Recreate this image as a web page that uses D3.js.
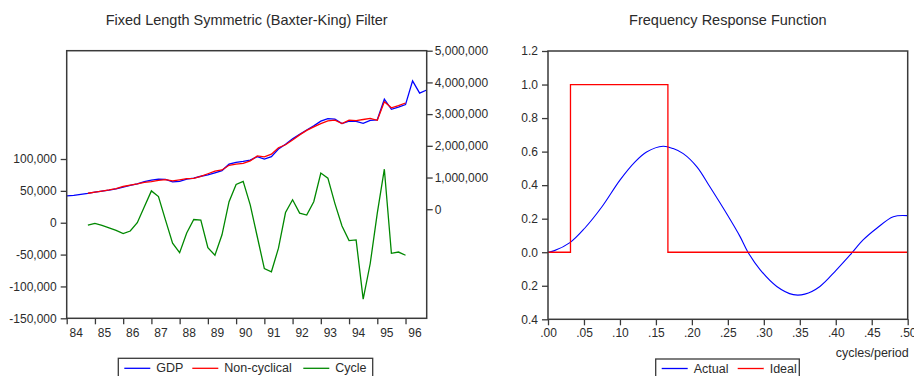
<!DOCTYPE html>
<html>
<head>
<meta charset="utf-8">
<script src="https://cdn.jsdelivr.net/npm/d3@7"></script>
<style>
  body { margin: 0; background: #fff; }
  text { font-family: Arial, "Liberation Sans", sans-serif; fill: #2b2b2b; }
</style>
</head>
<body>
<svg id="svg"></svg>
<script>
const width = 914;
const height = 376;

// quarters 1984Q1 .. 1996Q4 (index 0..51)
const yearLabels = ["84", "85", "86", "87", "88", "89", "90", "91", "92", "93", "94", "95", "96"];

// GDP, right axis
const gdp = [
    420000, 440000, 470000, 500000, 540000, 570000, 600000, 640000, 700000, 750000,
    800000, 870000, 920000, 950000, 940000, 860000, 880000, 950000, 980000, 1040000,
    1080000, 1150000, 1220000, 1420000, 1480000, 1510000, 1550000, 1660000, 1580000, 1660000,
    1900000, 2050000, 2220000, 2360000, 2500000, 2630000, 2780000, 2860000, 2840000, 2700000,
    2780000, 2770000, 2710000, 2800000, 2820000, 3470000, 3150000, 3220000, 3300000, 4050000,
    3660000, 3760000
];

// filtered series start at quarter 3 and stop at quarter 48
const filterStart = 3;

const nonCyclical = [
    504000, 541000, 574000, 608000, 652000, 717000, 763000, 800000, 845000, 870000,
    909000, 936000, 892000, 927000, 966000, 975000, 1036000, 1119000, 1201000, 1239000,
    1387000, 1420000, 1445000, 1522000, 1682000, 1652000, 1737000, 1940000, 2034000, 2184000,
    2345000, 2488000, 2597000, 2702000, 2790000, 2810000, 2705000, 2808000, 2797000, 2830000,
    2864000, 2805000, 3386000, 3198000, 3266000, 3351000
];

// Cycle, left axis
const cycle = [
    -3600, -1000, -4000, -8000, -12000, -17000, -13000, 0, 25000, 50000,
    41000, 4000, -32000, -47000, -16000, 5000, 4000, -39000, -51000, -19000,
    33000, 60000, 65000, 28000, -22000, -72000, -77000, -40000, 16000, 36000,
    15000, 12000, 33000, 78000, 70000, 30000, -5000, -28000, -27000, -120000,
    -64000, 15000, 84000, -48000, -46000, -51000
];

const leftTicks = [-150000, -100000, -50000, 0, 50000, 100000];
const rightTicks = [0, 1000000, 2000000, 3000000, 4000000, 5000000];

// frequency response
const freq = [
    0, 0.008, 0.031, 0.051, 0.075, 0.100, 0.121, 0.137, 0.160, 0.174,
    0.188, 0.207, 0.225, 0.248, 0.267, 0.278, 0.295, 0.318, 0.341, 0.357,
    0.378, 0.401, 0.422, 0.438, 0.457, 0.480, 0.500
];
const actualResp = [
    0, 0.008, 0.059, 0.143, 0.271, 0.430, 0.539, 0.598, 0.632, 0.618,
    0.588, 0.509, 0.390, 0.232, 0.093, 0.000, -0.105, -0.204, -0.253, -0.250,
    -0.204, -0.105, -0.006, 0.073, 0.143, 0.212, 0.218
];
const idealFreq = [0, 0.03125, 0.03125, 0.16667, 0.16667, 0.5];
const idealResp = [0, 0, 1, 1, 0, 0];

const freqTicks = [0, 0.05, 0.1, 0.15, 0.2, 0.25, 0.3, 0.35, 0.4, 0.45, 0.5];
const freqTickLabels = [".00", ".05", ".10", ".15", ".20", ".25", ".30", ".35", ".40", ".45", ".50"];
const respTicks = [-0.4, -0.2, 0, 0.2, 0.4, 0.6, 0.8, 1.0, 1.2];
const respTickLabels = ["0.4", "0.2", "0.0", "0.2", "0.4", "0.6", "0.8", "1.0", "1.2"];

const leftLegend = [
    { name: "GDP", color: "#0000ff" },
    { name: "Non-cyclical", color: "#ff0000" },
    { name: "Cycle", color: "#008800" }
];
const rightLegend = [
    { name: "Actual", color: "#0000ff" },
    { name: "Ideal", color: "#ff0000" }
];

const axisColor = "#3a3a3a";

let svg = d3.select("#svg");

function fmt(d) {
    // EViews style hyphen minus
    return d3.format(",")(d).replace("\u2212", "-");
}

function styleAxis(g) {
    g.select(".domain").remove();
    g.selectAll(".tick line").attr("stroke", axisColor).attr("stroke-width", 1.3);
    g.selectAll(".tick text").style("font-size", "12px").attr("fill", "#2b2b2b");
}

function drawFrame(x0, y0, x1, y1) {
    svg.append("rect")
        .attr("x", x0).attr("y", y0)
        .attr("width", x1 - x0).attr("height", y1 - y0)
        .attr("fill", "none")
        .attr("stroke", axisColor)
        .attr("stroke-width", 1.5);
}

function drawLegend(items, x0, y0, w, spacing, baseline) {
    let g = svg.append("g").attr("transform", `translate(${x0},${y0})`);
    g.append("rect")
        .attr("width", w).attr("height", 24)
        .attr("fill", "#fff")
        .attr("stroke", axisColor)
        .attr("stroke-width", 1.3);
    let x = 6;
    items.forEach((it, i) => {
        g.append("line")
            .attr("x1", x).attr("x2", x + 26)
            .attr("y1", baseline - 4).attr("y2", baseline - 4)
            .attr("stroke", it.color)
            .attr("stroke-width", 1.3);
        g.append("text")
            .attr("x", x + 32).attr("y", baseline)
            .style("font-size", "12.5px")
            .text(it.name);
        x += spacing[i];
    });
}

function drawLeftChart() {
    const L = 66.7, R = 426.7, T = 50.7, B = 318.3;

    let x = d3.scaleLinear().domain([0, 51]).range([L, R]);
    let yCycle = d3.scaleLinear().domain([-150000, 270000]).range([B, T]);
    let yGdp = d3.scaleLinear().domain([-3440000, 5000000]).range([B, T]);

    svg.append("text")
        .attr("x", (L + R) / 2).attr("y", 25)
        .attr("text-anchor", "middle")
        .style("font-size", "14.5px")
        .text("Fixed Length Symmetric (Baxter-King) Filter");

    let line = d3.line().x(d => x(d[0])).y(d => d[1]);

    svg.append("path")
        .datum(gdp.map((v, i) => [i, yGdp(v)]))
        .attr("d", line)
        .attr("fill", "none")
        .attr("stroke", "#0000ff")
        .attr("stroke-width", 1.3);

    svg.append("path")
        .datum(nonCyclical.map((v, i) => [i + filterStart, yGdp(v)]))
        .attr("d", line)
        .attr("fill", "none")
        .attr("stroke", "#ff0000")
        .attr("stroke-width", 1.3);

    svg.append("path")
        .datum(cycle.map((v, i) => [i + filterStart, yCycle(v)]))
        .attr("d", line)
        .attr("fill", "none")
        .attr("stroke", "#008800")
        .attr("stroke-width", 1.3);

    drawFrame(L, T, R, B);

    // left axis
    svg.append("g")
        .attr("transform", `translate(${L},0)`)
        .call(d3.axisLeft(yCycle).tickValues(leftTicks).tickFormat(fmt).tickSize(6).tickPadding(4))
        .call(styleAxis);

    // right axis
    svg.append("g")
        .attr("transform", `translate(${R},0)`)
        .call(d3.axisRight(yGdp).tickValues(rightTicks).tickFormat(fmt).tickSize(6).tickPadding(2))
        .call(styleAxis);

    // bottom axis, ticks at start of each year, labels shifted into the year
    svg.append("g")
        .attr("transform", `translate(0,${B})`)
        .call(d3.axisBottom(x).tickValues(yearLabels.map((d, i) => i * 4)).tickFormat("").tickSize(6))
        .call(styleAxis);

    svg.append("g").selectAll("text")
        .data(yearLabels)
        .join("text")
        .attr("x", (d, i) => x(i * 4 + 1.35))
        .attr("y", 337)
        .attr("text-anchor", "middle")
        .style("font-size", "12px")
        .text(d => d);

    drawLegend(leftLegend, 118.3, 358.3, 254.4, [68, 111, 0], 14);
}

function drawRightChart() {
    const L = 548, R = 907.7, T = 51, B = 319.3;

    let x = d3.scaleLinear().domain([0, 0.5]).range([L, R]);
    let y = d3.scaleLinear().domain([-0.4, 1.2]).range([B, T]);

    svg.append("text")
        .attr("x", (L + R) / 2).attr("y", 25)
        .attr("text-anchor", "middle")
        .style("font-size", "14.5px")
        .text("Frequency Response Function");

    svg.append("path")
        .datum(freq.map((f, i) => [f, actualResp[i]]))
        .attr("d", d3.line().x(d => x(d[0])).y(d => y(d[1])).curve(d3.curveCatmullRom))
        .attr("fill", "none")
        .attr("stroke", "#0000ff")
        .attr("stroke-width", 1.1);

    svg.append("path")
        .datum(idealFreq.map((f, i) => [f, idealResp[i]]))
        .attr("d", d3.line().x(d => x(d[0])).y(d => y(d[1])))
        .attr("fill", "none")
        .attr("stroke", "#ff0000")
        .attr("stroke-width", 1.3);

    drawFrame(L, T, R, B);

    svg.append("g")
        .attr("transform", `translate(${L},0)`)
        .call(d3.axisLeft(y).tickValues(respTicks).tickFormat((d, i) => respTickLabels[i]).tickSize(6).tickPadding(4))
        .call(styleAxis);

    svg.append("g")
        .attr("transform", `translate(0,${B})`)
        .call(d3.axisBottom(x).tickValues(freqTicks).tickFormat((d, i) => freqTickLabels[i]).tickSize(6).tickPadding(3))
        .call(styleAxis);

    svg.append("text")
        .attr("x", R + 1).attr("y", 357)
        .attr("text-anchor", "end")
        .style("font-size", "12.5px")
        .text("cycles/period");

    drawLegend(rightLegend, 655.7, 359, 143.6, [76, 0], 13.5);
}

function initialiseSVG() {
    svg.attr("width", width);
    svg.attr("height", height);
    svg.selectAll("*").remove();
    drawLeftChart();
    drawRightChart();
}

initialiseSVG();
</script>
</body>
</html>
